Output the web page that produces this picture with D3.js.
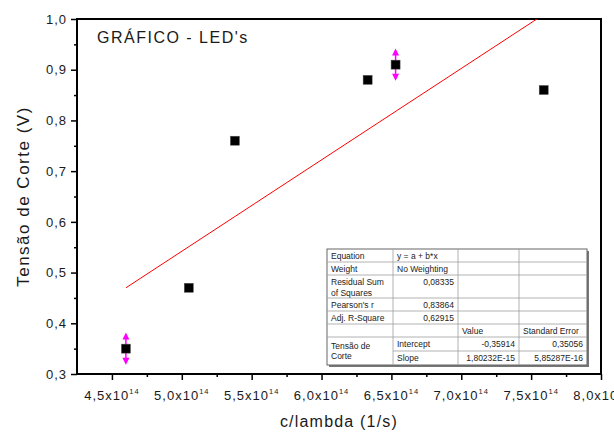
<!DOCTYPE html>
<html>
<head>
<meta charset="utf-8">
<script src="https://cdn.jsdelivr.net/npm/d3@7"></script>
<style>
  html, body { margin: 0; padding: 0; background: #fff; }
  svg { display: block; font-family: "Liberation Sans", Arial, sans-serif; }
</style>
</head>
<body>
<svg id="chart" width="614" height="433"></svg>
<script>
// ---------- data ----------
const freq = [4.60e14, 5.05e14, 5.38e14, 6.33e14, 6.53e14, 7.59e14];   // c/lambda (1/s)
const voltage = [0.35, 0.47, 0.76, 0.88, 0.91, 0.86];                  // Tensão de Corte (V)
const voltageErr = [0.032, null, null, null, 0.032, null];
const fitIntercept = -0.35914;
const fitSlope = 1.80232e-15;
const xTicks = [4.5e14, 5.0e14, 5.5e14, 6.0e14, 6.5e14, 7.0e14, 7.5e14, 8.0e14];
const xTickLabels = ["4,5", "5,0", "5,5", "6,0", "6,5", "7,0", "7,5", "8,0"];
const xMinorTicks = [4.75e14, 5.25e14, 5.75e14, 6.25e14, 6.75e14, 7.25e14, 7.75e14];
const yTicks = [0.3, 0.4, 0.5, 0.6, 0.7, 0.8, 0.9, 1.0];
const yMinorTicks = [0.35, 0.45, 0.55, 0.65, 0.75, 0.85, 0.95];
const tableRows = [
  ["Equation", "y = a + b*x", "", ""],
  ["Weight", "No Weighting", "", ""],
  ["Residual Sum|of Squares", "0,08335", "", ""],
  ["Pearson's r", "0,83864", "", ""],
  ["Adj. R-Square", "0,62915", "", ""],
  ["", "", "Value", "Standard Error"],
  ["Tensão de", "Intercept", "-0,35914", "0,35056"],
  ["Corte", "Slope", "1,80232E-15", "5,85287E-16"]
];

// ---------- layout ----------
const W = 614, H = 433;
const m = { left: 77, right: 13, top: 19, bottom: 59 };
const svg = d3.select("#chart");
const x = d3.scaleLinear().domain([4.25e14, 8.0e14]).range([m.left, W - m.right]);
const y = d3.scaleLinear().domain([0.3, 1.0]).range([H - m.bottom, m.top]);
const txt = "#1a1a1a";

svg.append("defs").append("clipPath").attr("id", "plotclip")
  .append("rect").attr("x", m.left).attr("y", m.top)
  .attr("width", W - m.left - m.right).attr("height", H - m.top - m.bottom);

// ---------- axes ----------
const fmtY = d => d.toFixed(1).replace(".", ",");
const gy = svg.append("g").attr("transform", `translate(${m.left},0)`)
  .call(d3.axisLeft(y).tickValues(yTicks).tickSize(6).tickPadding(4).tickFormat(fmtY));
gy.select(".domain").remove();
gy.selectAll("text").attr("font-size", 13).attr("fill", txt).style("letter-spacing", "1px")
  .attr("font-family", '"Liberation Sans", Arial, sans-serif');
gy.selectAll("line").attr("stroke-width", 1.5);
const gyMinor = svg.append("g").attr("transform", `translate(${m.left},0)`)
  .call(d3.axisLeft(y).tickValues(yMinorTicks).tickSize(3).tickFormat(""));
gyMinor.select(".domain").remove();
gyMinor.selectAll("line").attr("stroke-width", 1.5);

const gx = svg.append("g").attr("transform", `translate(0,${H - m.bottom})`)
  .call(d3.axisBottom(x).tickValues(xTicks).tickSize(6).tickFormat(""));
gx.select(".domain").remove();
gx.selectAll("line").attr("stroke-width", 1.5);
const gxMinor = svg.append("g").attr("transform", `translate(0,${H - m.bottom})`)
  .call(d3.axisBottom(x).tickValues(xMinorTicks).tickSize(3).tickFormat(""));
gxMinor.select(".domain").remove();
gxMinor.selectAll("line").attr("stroke-width", 1.5);

// x tick labels with superscript exponent
xTicks.forEach((v, i) => {
  const t = svg.append("text")
    .attr("x", x(v)).attr("y", H - m.bottom + 26)
    .attr("text-anchor", "middle").attr("font-size", 13).attr("fill", txt)
    .style("letter-spacing", "1px");
  t.append("tspan").text(xTickLabels[i] + "x10");
  t.append("tspan").attr("font-size", 7.5).attr("dy", -6).text("14");
});

// frame
svg.append("rect").attr("x", m.left).attr("y", m.top)
  .attr("width", W - m.left - m.right).attr("height", H - m.top - m.bottom)
  .attr("fill", "none").attr("stroke", "#000").attr("stroke-width", 2);

// axis titles
svg.append("text").attr("x", (m.left + W - m.right) / 2 + 0).attr("y", 427)
  .attr("text-anchor", "middle").attr("font-size", 16).attr("fill", txt)
  .style("letter-spacing", "1.2px").text("c/lambda (1/s)");
svg.append("text")
  .attr("transform", `translate(29,${(m.top + H - m.bottom) / 2}) rotate(-90)`)
  .attr("text-anchor", "middle").attr("font-size", 17).attr("fill", txt)
  .style("letter-spacing", "1.5px").text("Tensão de Corte (V)");

// chart title
svg.append("text").attr("x", 97).attr("y", 43).attr("font-size", 16).attr("fill", txt)
  .style("letter-spacing", "1.5px").text("GRÁFICO - LED's");

// ---------- fit line ----------
const xFit = d3.extent(freq);
svg.append("line")
  .attr("clip-path", "url(#plotclip)")
  .attr("x1", x(xFit[0])).attr("y1", y(fitIntercept + fitSlope * xFit[0]))
  .attr("x2", x(xFit[1])).attr("y2", y(fitIntercept + fitSlope * xFit[1]))
  .attr("stroke", "#ff0000").attr("stroke-width", 1);

// ---------- error bars ----------
const eb = svg.append("g").attr("fill", "#ff00ff").attr("stroke", "#ff00ff");
freq.forEach((f, i) => {
  const e = voltageErr[i];
  if (e == null) return;
  const cx = x(f), yt = y(voltage[i] + e), yb = y(voltage[i] - e);
  eb.append("line").attr("x1", cx).attr("x2", cx).attr("y1", yt + 2).attr("y2", yb - 2)
    .attr("stroke-width", 1.5);
  eb.append("path").attr("stroke", "none")
    .attr("d", `M${cx},${yt} L${cx - 3.5},${yt + 7} L${cx + 3.5},${yt + 7} Z`);
  eb.append("path").attr("stroke", "none")
    .attr("d", `M${cx},${yb} L${cx - 3.5},${yb - 7} L${cx + 3.5},${yb - 7} Z`);
});

// ---------- points ----------
const s = 9;
svg.append("g").selectAll("rect").data(freq).join("rect")
  .attr("x", (d) => x(d) - s / 2)
  .attr("y", (d, i) => y(voltage[i]) - s / 2)
  .attr("width", s).attr("height", s)
  .attr("fill", "#000").attr("stroke", "#555").attr("stroke-width", 0.5);

// ---------- stats table ----------
const colX = [327, 393, 458, 519, 587];
const rowY = [249, 262, 275, 298, 311, 324, 337, 351, 365];
const tg = svg.append("g").attr("font-size", 8.5).attr("fill", "#222");
// shadow
tg.append("rect").attr("x", colX[0] + 2).attr("y", rowY[0] + 2)
  .attr("width", colX[4] - colX[0]).attr("height", rowY[8] - rowY[0])
  .attr("fill", "#777");
tg.append("rect").attr("x", colX[0]).attr("y", rowY[0])
  .attr("width", colX[4] - colX[0]).attr("height", rowY[8] - rowY[0])
  .attr("fill", "#fff").attr("stroke", "#666").attr("stroke-width", 1);
const grid = "#a0a0a0";
// vertical lines
[1, 2, 3].forEach(c => {
  tg.append("line").attr("x1", colX[c]).attr("x2", colX[c])
    .attr("y1", rowY[0]).attr("y2", rowY[8]).attr("stroke", grid).attr("stroke-width", 0.8);
});
// horizontal lines
for (let r = 1; r < 8; r++) {
  tg.append("line").attr("x1", r === 7 ? colX[1] : colX[0]).attr("x2", colX[4])
    .attr("y1", rowY[r]).attr("y2", rowY[r]).attr("stroke", grid).attr("stroke-width", 0.8);
}
tableRows.forEach((row, r) => {
  row.forEach((cell, c) => {
    if (!cell) return;
    const numeric = /^-?\d/.test(cell);
    const lines = cell.split("|");
    lines.forEach((ln, k) => {
      let ty;
      if (r === 6 && c === 0) ty = rowY[r] + 12;
      else if (r === 7 && c === 0) ty = rowY[r] + 8;
      else ty = rowY[r] + 10 + k * 11;
      tg.append("text")
        .attr("x", numeric ? colX[c + 1] - 4 : colX[c] + 4)
        .attr("y", ty)
        .attr("text-anchor", numeric ? "end" : "start")
        .text(ln);
    });
  });
});
</script>
</body>
</html>
